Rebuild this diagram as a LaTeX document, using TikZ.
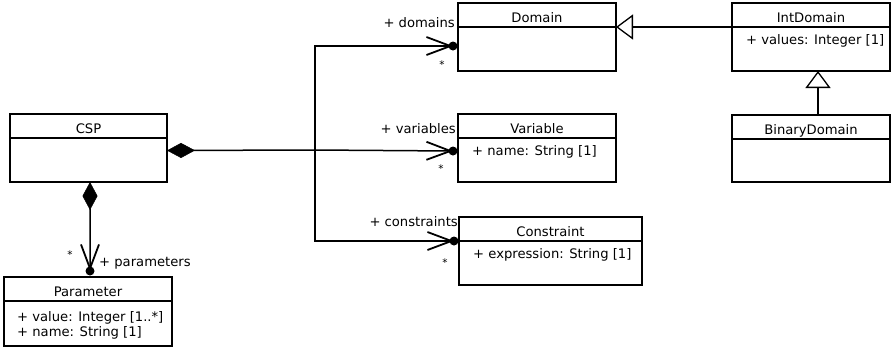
\documentclass[tikz,border=0pt]{standalone}
\usepackage{fontspec}
\setmainfont{DejaVu Sans}
\usetikzlibrary{arrows.meta,fit}

\tikzset{
  classbox/.style={draw, line width=1.3bp, inner sep=0pt, outer sep=0pt},
  classline/.style={line width=1.3bp},
  classtitle/.style={anchor=base, inner sep=0pt},
  attr/.style={anchor=base west, inner sep=0pt},
  rolelabel/.style={anchor=base east, inner sep=0pt},
  mult/.style={inner sep=0pt, font=\fontsize{10.5}{12}\selectfont},
  conn/.style={line width=1.5bp},
  diamondtip/.tip={Diamond[length=28bp, width=15bp, line width=0.5bp]},
  barbtip/.tip={Straight Barb[length=24bp, width=18bp, line width=1.8bp]},
  composite/.style={diamondtip-},
  navend/.style={-barbtip},
  compnav/.style={diamondtip-barbtip},
  inherit/.style={-{Triangle[open, length=17bp, width=25bp, line width=1.3bp]}},
  enddot/.style={circle, fill, inner sep=0pt, minimum size=9bp}
}

% class box: name, NW corner, SE corner, title
\newcommand\umlclass[4]{%
  \node[classbox, fit={#2 #3}] (#1) {};
  \draw[classline] ([yshift=-24bp]#1.north west) -- ([yshift=-24bp]#1.north east);
  \node[classtitle] (#1-title) at ([yshift=-19.5bp]#1.north) {#4};
}

\begin{document}
\begin{tikzpicture}[x=1bp, y=-1bp, font=\fontsize{13.2}{15}\selectfont]
\useasboundingbox (0,0) rectangle (891,348);

% classes
\umlclass{csp}{(10,114)}{(167,182)}{CSP}
\umlclass{param}{(4,277)}{(172,346)}{Parameter}
\umlclass{domain}{(458,3)}{(616,71)}{Domain}
\umlclass{variable}{(458,114)}{(616,182)}{Variable}
\umlclass{constraint}{(459,217)}{(642,285)}{Constraint}
\umlclass{intdomain}{(732,3)}{(890,71)}{IntDomain}
\umlclass{binarydomain}{(732,115)}{(890,182)}{BinaryDomain}

% attributes
\node[attr] (param-a1) at ([xshift=13bp, yshift=-44bp]param.north west) {+ value: Integer [1..*]};
\node[attr] (param-a2) at ([xshift=13bp, yshift=-59.5bp]param.north west) {+ name: String [1]};
\node[attr] (variable-a1) at ([xshift=14bp, yshift=-41bp]variable.north west) {+ name: String [1]};
\node[attr] (constraint-a1) at ([xshift=14bp, yshift=-41bp]constraint.north west) {+ expression: String [1]};
\node[attr] (intdomain-a1) at ([xshift=14bp, yshift=-41bp]intdomain.north west) {+ values: Integer [1]};

% association ends
\coordinate (dDom) at ([xshift=-5bp, yshift=-9bp]domain.west);
\coordinate (dVar) at ([xshift=-5bp, yshift=-3bp]variable.west);
\coordinate (dCon) at ([xshift=-5bp, yshift=10bp]constraint.west);
\coordinate (dPar) at ([xshift=2bp, yshift=6bp]param.north);
\coordinate (bus) at (315,150);

% composition CSP -> Domain / Variable / Constraint
\draw[conn, composite] ([yshift=-2.5bp]csp.east) -- (bus);
\draw[conn, navend] (bus) -- (dVar);
\draw[conn, navend] (bus) |- (dDom);
\draw[conn, navend] (bus) |- (dCon);

% composition CSP -> Parameter
\draw[conn, compnav] ([xshift=1.5bp]csp.south) -- (dPar);

\node[enddot] (dotDom) at (dDom) {};
\node[enddot] (dotVar) at (dVar) {};
\node[enddot] (dotCon) at (dCon) {};
\node[enddot] (dotPar) at (dPar) {};

% role names and multiplicities
\node[rolelabel] (lDom) at (455,27.5) {+ domains};
\node[rolelabel] (lVar) at (456,133.3) {+ variables};
\node[rolelabel] (lCon) at (458,226) {+ constraints};
\node[anchor=base west, inner sep=0pt] (lPar) at (99,266) {+ parameters};
\node[mult] (mDom) at (442,65) {*};
\node[mult] (mVar) at (441,169) {*};
\node[mult] (mCon) at (445,263) {*};
\node[mult] (mPar) at (70,255) {*};

% generalizations
\draw[conn, inherit] ([yshift=-24bp]intdomain.north west) -- ([yshift=-24bp]domain.north east);
\draw[conn, inherit] ([xshift=7bp]binarydomain.north) -- ([xshift=7bp]intdomain.south);
\end{tikzpicture}
\end{document}
